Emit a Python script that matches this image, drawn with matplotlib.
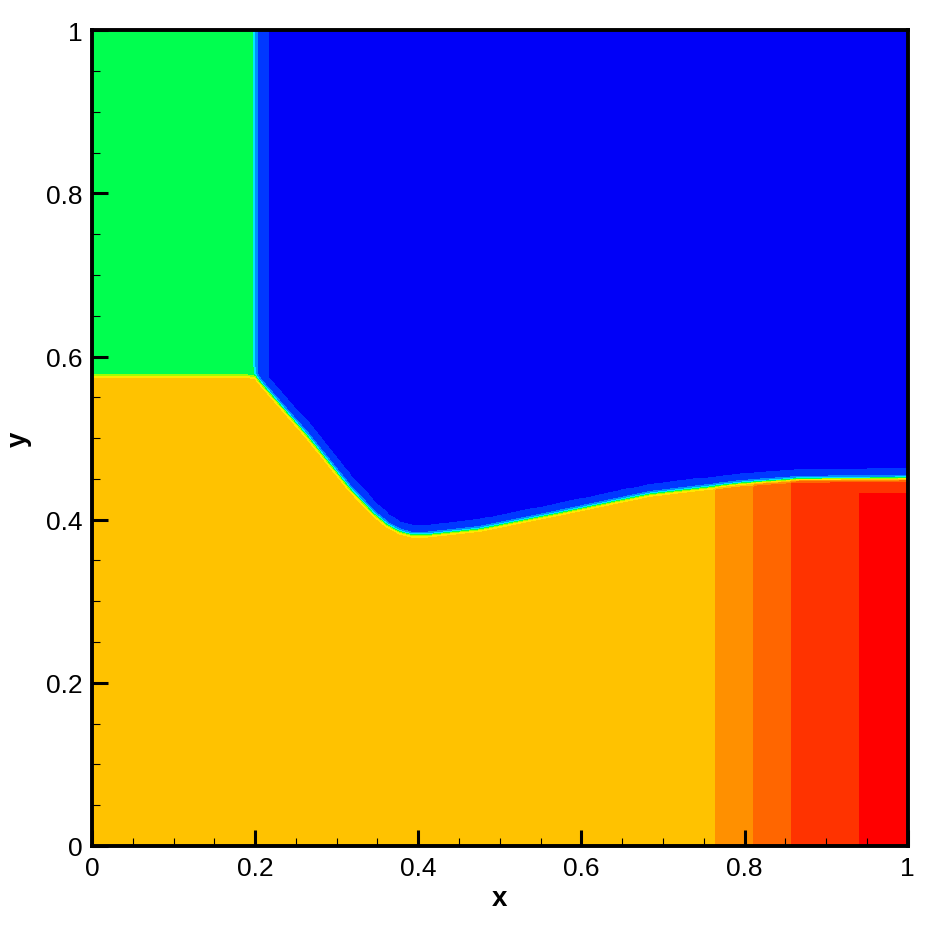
import numpy as np
import matplotlib.pyplot as plt
from matplotlib.ticker import MultipleLocator

plt.rcParams['font.family'] = ['Liberation Sans', 'DejaVu Sans']

# interface between the upper gas and the lower gas
interface_x = [0.0, 0.2, 0.263, 0.316, 0.345, 0.362, 0.377, 0.392, 0.41, 0.475, 0.574, 0.684, 0.794, 0.868, 1.0]
interface_y = [0.575, 0.575, 0.503, 0.4375, 0.407, 0.393, 0.385, 0.381, 0.381, 0.388, 0.408, 0.431, 0.444, 0.449, 0.45]

# lower region: value steps along x
lower_edges = [0.765, 0.811, 0.857, 0.94]
lower_values = [0.8, 0.9, 1.0, 1.1, 1.1]
red_x = 0.94
red_y = 0.432
red_value = 1.2

# upper region
green_x = 0.2
green_value = 0.5
blue_value = 0.1
band_value = 0.2
band_width = 0.012

# contour levels and colours
levels = [0.0, 0.15, 0.25, 0.35, 0.45, 0.55, 0.65, 0.75, 0.85, 0.95, 1.05, 1.15, 1.25]
colors = ['#0000f8', '#0038ff', '#0090ff', '#00e8ff', '#00ff4f', '#a0ff00',
          '#ffe800', '#ffc200', '#ff9000', '#ff6600', '#ff3300', '#ff0000']

tick_vals = [0, 0.2, 0.4, 0.6, 0.8, 1.0]
tick_labels = ['0', '0.2', '0.4', '0.6', '0.8', '1']

# build the field
n = 900
w = 0.003
x = np.linspace(0, 1, n)
y = np.linspace(0, 1, n)
X, Y = np.meshgrid(x, y)
yb_line = np.interp(x, interface_x, interface_y)
slope = np.gradient(yb_line, x)
yb = np.interp(X, interface_x, interface_y)
dn = (Y - yb) / np.sqrt(1 + slope[None, :] ** 2)

lower = np.array(lower_values)[np.searchsorted(lower_edges, X)]
lower = np.where((X > red_x) & (Y < red_y), red_value, lower)

band = (dn < band_width) | ((X > green_x) & (X - green_x < 0.016))
upper = blue_value + (band_value - blue_value) * band
upper = upper + (green_value - upper) * 0.5 * (1 - np.tanh((X - green_x) / w))
field = upper + (lower - upper) * 0.5 * (1 - np.tanh(dn / w))

fig = plt.figure(figsize=(9.29, 9.29), dpi=100)
ax = fig.add_axes([0.099, 0.0883, 0.878, 0.878])
ax.contourf(X, Y, field, levels=levels, colors=colors)

ax.set_xlim(0, 1)
ax.set_ylim(0, 1)
ax.set_xticks(tick_vals)
ax.set_xticklabels(tick_labels)
ax.set_yticks(tick_vals)
ax.set_yticklabels(tick_labels)
ax.xaxis.set_minor_locator(MultipleLocator(0.05))
ax.yaxis.set_minor_locator(MultipleLocator(0.05))
ax.tick_params(which='both', direction='in', top=False, right=False, labelsize=19, pad=7)
ax.tick_params(which='major', length=11.5, width=2.2)
ax.tick_params(which='minor', length=5.8, width=0.8)
for s in ax.spines.values():
    s.set_linewidth(2.8)

ax.set_xlabel('x', fontsize=20, fontweight='bold', labelpad=4)
ax.set_ylabel('y', fontsize=20, fontweight='bold', labelpad=10)

fig.savefig('out.png', dpi=100)
